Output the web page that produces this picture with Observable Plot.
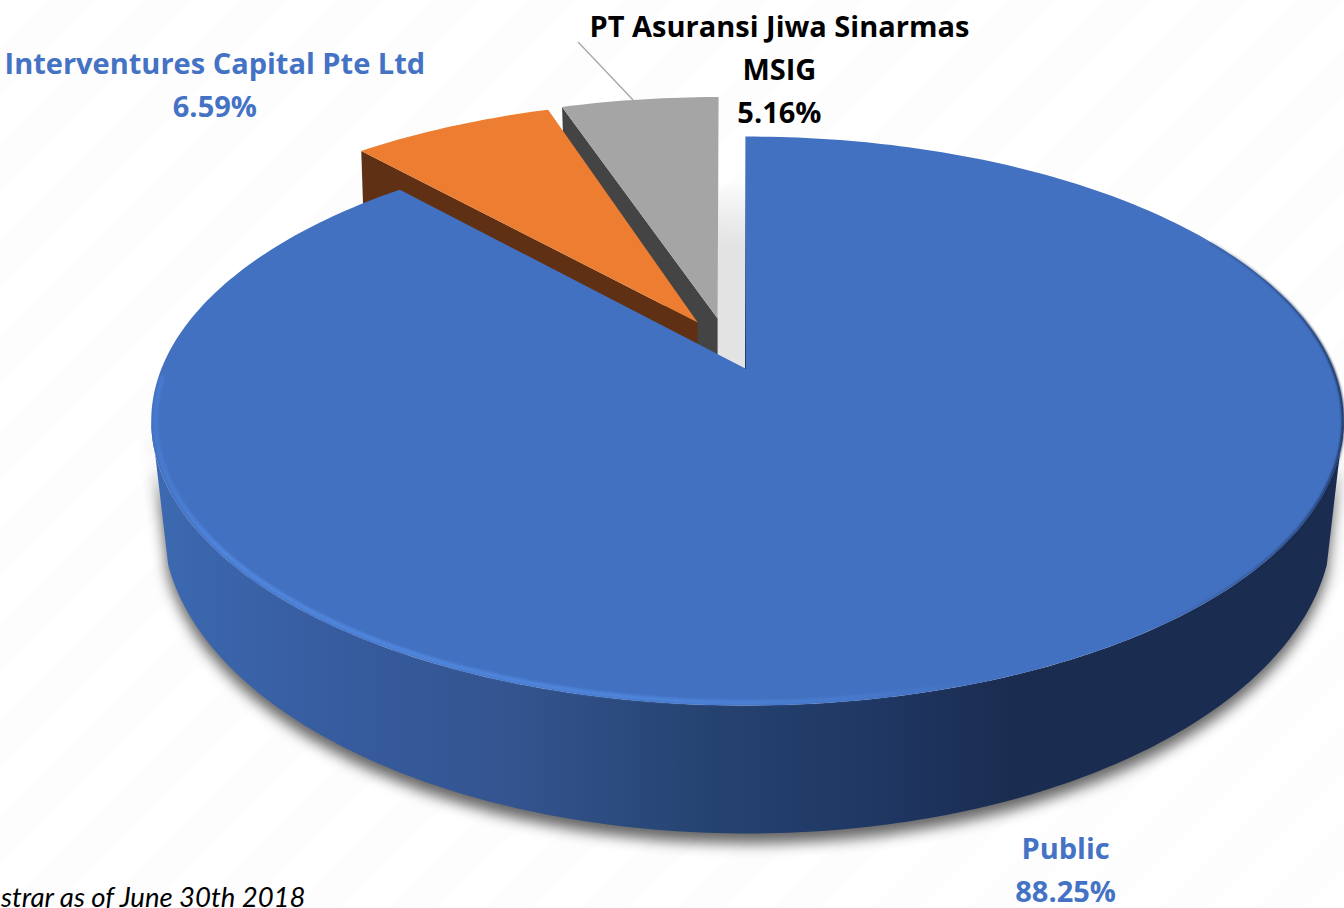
<!DOCTYPE html>
<html>
<head>
<meta charset="utf-8">
<script src="https://cdn.jsdelivr.net/npm/d3@7"></script>
<script src="https://cdn.jsdelivr.net/npm/@observablehq/plot@0.6"></script>
<style>
html,body{margin:0;padding:0;width:1344px;height:908px;overflow:hidden;
background:repeating-linear-gradient(135deg,#ffffff 0 34px,#fdfdfd 34px 68px);}
svg{display:block}
</style>
</head>
<body>
<div id="chart"></div>
<script>
// ---- data ----
const holders = ["Public", "Interventures Capital Pte Ltd", "PT Asuransi Jiwa Sinarmas\nMSIG"];
const shares = [88.25, 6.59, 5.16];

// ---- styling ----
const topColors = ["#4371c1", "#ed7d31", "#a5a5a5"];
const wallColors = ["#1a2c50", "#5f3013", "#444444"];
const labelColors = ["#4472c4", "#4472c4", "#000000"];
const explodeX = [0, -0.0845, -0.0494];
const explodeY = [0, 0.173, 0.188];
const rimRadius = [1, 1.02, 1.02];
const rimNudge = [0, 0, -0.007];
const labelDx = [64, -241, 135];
const labelDy = [189, -47.5, -37];
const wallDepth = [0, 60, 60];
const font = "'Open Sans', sans-serif";

// ---- pie projection: a disc on the table, seen in perspective ----
const P = {cx: 745, d: 586, a: -206.9, b: 368, c: 0.1845, skew: 2};
function project(deg, r, ox = 0, oy = 0) {
  const t = deg * Math.PI / 180;
  const X = r * Math.sin(t) + ox, Y = r * Math.cos(t) + oy, w = P.c * Y + 1;
  return {x: P.cx + P.d * X / w + P.skew * Math.abs(X), y: (P.a * Y + P.b) / w};
}
const base = {cx: 747, cy: 521, a: 585, b: 312};
function floor(deg) {
  const t = deg * Math.PI / 180;
  return {x: base.cx + base.a * Math.sin(t), y: base.cy - base.b * Math.cos(t)};
}
const sweep = (a, b) => d3.range(a, b, 1).concat([b]);
const total = d3.sum(shares);
const starts = d3.cumsum([0, ...shares]).map(v => v * 360 / total);
const rimPoint = (deg, i) => project(deg, rimRadius[i], explodeX[i] + rimNudge[i], explodeY[i]);

function slice(i) {
  const arc = sweep(starts[i], starts[i + 1]).map(d => rimPoint(d, i));
  const tip = project(0, 0, explodeX[i], explodeY[i]);
  return [tip, ...arc, tip];
}
function wall(i) {
  const tip = project(0, 0, explodeX[i], explodeY[i]);
  const rim = rimPoint(starts[i], i), h = wallDepth[i];
  return [rim, tip, {x: tip.x, y: tip.y + h}, {x: rim.x + 2, y: rim.y + h}, rim];
}
// the outer wall of the big slice, between the two silhouette points of its rim
const rimFront = sweep(100.6, 259.4).map(d => project(d, 1));
const floorFront = sweep(98, 262).map(d => floor(d)).reverse();
const sideWall = [...rimFront, ...floorFront, rimFront[0]];
const shadow = sideWall.map(p => ({x: p.x, y: p.y + 10}));
// soft shadow in the gap between the grey slice and the big slice
const gTip = project(0, 0, explodeX[2], explodeY[2]);
const bTop = project(0, 1), bTip = project(0, 0);
const gap = [{x: gTip.x, y: bTop.y + 45}, {x: bTip.x, y: bTop.y + 45}, bTip, {x: gTip.x, y: bTip.y - 15}];
gap.push(gap[0]);

const line = (pts, o) => Plot.line(pts, {x: "x", y: "y", stroke: "none", ...o});

const defs = () => {
  const svg = d3.create("svg:defs");
  const grad = (id, x1, y1, x2, y2, stops) => {
    const g = svg.append("linearGradient").attr("id", id).attr("gradientUnits", "userSpaceOnUse")
      .attr("x1", x1).attr("y1", y1).attr("x2", x2).attr("y2", y2);
    stops.forEach(([o, c, a = 1]) => g.append("stop").attr("offset", o).attr("stop-color", c).attr("stop-opacity", a));
  };
  grad("side", 155, 0, 1344, 0, [[0, "#3c69b1"], [0.15, "#375c9f"], [0.3, "#33548f"], [0.47, "#25426f"], [0.62, "#1f3662"], [0.72, "#1a2c50"], [1, "#1a2c50"]]);
  grad("shine", 151, 0, 1000, 0, [[0, "#4a80d8", 0.5], [0.08, "#4f86dc"], [0.6, "#4f86dc", 0.9], [1, "#4f86dc", 0]]);
  grad("dark", 1150, 0, 1344, 0, [[0, "#14264a", 0], [0.7, "#14264a", 0.5], [1, "#14264a", 0.95]]);
  grad("gapFade", 0, bTop.y + 45, 0, bTop.y + 110, [[0, "#dddddd", 0], [1, "#e3e3e3", 1]]);
  grad("cut", 0, bTop.y, 0, bTip.y, [[0, "#1a2c50", 0.1], [1, "#14264a", 0.9]]);
  return svg.node();
};

const labels = holders.map((name, i) => {
  const mid = (starts[i] + starts[i + 1]) / 2;
  const p = project(mid, 1, explodeX[i], explodeY[i]);
  return {x: p.x, y: p.y, text: `${name}\n${shares[i].toFixed(2)}%`, i};
});
const leaderStart = rimPoint((starts[2] + starts[3]) / 2 - 0.8, 2);

const chart = Plot.plot({
  width: 1344, height: 908, margin: 0,
  x: {domain: [0, 1344], range: [0, 1344], axis: null},
  y: {domain: [0, 908], range: [0, 908], axis: null},
  style: {background: "transparent", overflow: "visible"},
  marks: [
    defs,
    line(shadow, {fill: "#000", fillOpacity: 0.6, imageFilter: "blur(7px)"}),
    line(gap, {fill: "url(#gapFade)"}),
    line(wall(2), {fill: wallColors[2]}),
    line(slice(2), {fill: topColors[2]}),
    line(wall(1), {fill: wallColors[1]}),
    line(slice(1), {fill: topColors[1]}),
    line(sideWall, {fill: "url(#side)"}),
    line(slice(0), {fill: topColors[0]}),
    line(sweep(60, 160).map(d => project(d, 0.999)), {stroke: "url(#dark)", strokeWidth: 2.5, imageFilter: "blur(1px)"}),
    line(sweep(150, 268).map(d => project(d, 0.993)), {stroke: "url(#shine)", strokeWidth: 5, imageFilter: "blur(1.2px)"}),
    line([bTop, bTip], {stroke: "url(#cut)", strokeWidth: 1}),
    Plot.link([leaderStart], {
      x1: "x", y1: "y", x2: d => d.x - 55, y2: d => d.y - 58,
      stroke: "#a6a6a6", strokeWidth: 1.3
    }),
    ...labels.map(d => Plot.text([d], {
      x: "x", y: "y", text: "text", dx: labelDx[d.i], dy: labelDy[d.i],
      fill: labelColors[d.i], fontFamily: font, fontWeight: 700, fontSize: 29,
      lineHeight: 1.485, textAnchor: "middle"
    })),
    Plot.text(["strar as of June 30th 2018"], {
      frameAnchor: "bottom-left", text: d => d, dx: 305, dy: -2,
      textAnchor: "end", lineAnchor: "bottom",
      fontFamily: "Lato, sans-serif", fontStyle: "italic", fontSize: 27.5, fill: "#000"
    })
  ]
});
document.getElementById("chart").append(chart);
</script>
</body>
</html>
